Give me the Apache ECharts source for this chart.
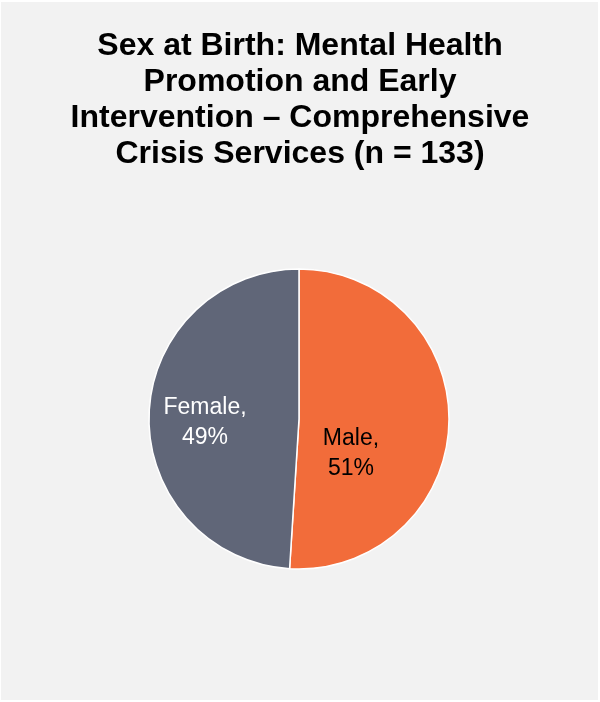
<!DOCTYPE html>
<html>
<head>
<meta charset="utf-8">
<script src="https://cdn.jsdelivr.net/npm/echarts@6/dist/echarts.min.js"></script>
<style>
  html, body { margin: 0; padding: 0; background: #ffffff; }
  #chart { width: 600px; height: 702px; }
</style>
</head>
<body>
<div id="chart"></div>
<script>
// data
const titleLines = [
  'Sex at Birth: Mental Health',
  'Promotion and Early',
  'Intervention \u2013 Comprehensive',
  'Crisis Services (n = 133)'
]
const categories = ['Male', 'Female']
const percents = [51, 49]

const sliceColors = { Male: '#F26C3A', Female: '#606678' }
const labelColors = { Male: '#000000', Female: '#ffffff' }
// nudges to mimic where Excel put the labels
const labelOffsets = { Male: [-26, 32], Female: [-16, 6] }

const chart = echarts.init(document.getElementById('chart'))

chart.setOption({
  backgroundColor: '#ffffff',
  animation: false,
  graphic: [{
    type: 'rect',
    z: -10,
    silent: true,
    shape: { x: 1, y: 2, width: 597, height: 698 },
    style: { fill: '#f2f2f2' }
  }],
  title: {
    text: titleLines.join('\n'),
    left: 295,
    top: 23,
    textAlign: 'center',
    textStyle: {
      fontFamily: 'Liberation Sans, Arial, sans-serif',
      fontWeight: 'bold',
      fontSize: 32,
      lineHeight: 36,
      color: '#000000'
    }
  },
  series: [{
    type: 'pie',
    center: [299, 419],
    radius: [0, 150],
    startAngle: 90,
    clockwise: true,
    avoidLabelOverlap: false,
    itemStyle: { borderColor: '#ffffff', borderWidth: 1.5 },
    label: {
      position: 'inside',
      formatter: '{b},\n{c}%',
      fontFamily: 'Liberation Sans, Arial, sans-serif',
      fontSize: 23,
      lineHeight: 30
    },
    labelLine: { show: false },
    emphasis: { disabled: true },
    data: categories.map((name, i) => ({
      name: name,
      value: percents[i],
      itemStyle: { color: sliceColors[name] },
      label: { color: labelColors[name], offset: labelOffsets[name] }
    }))
  }]
})
</script>
</body>
</html>
